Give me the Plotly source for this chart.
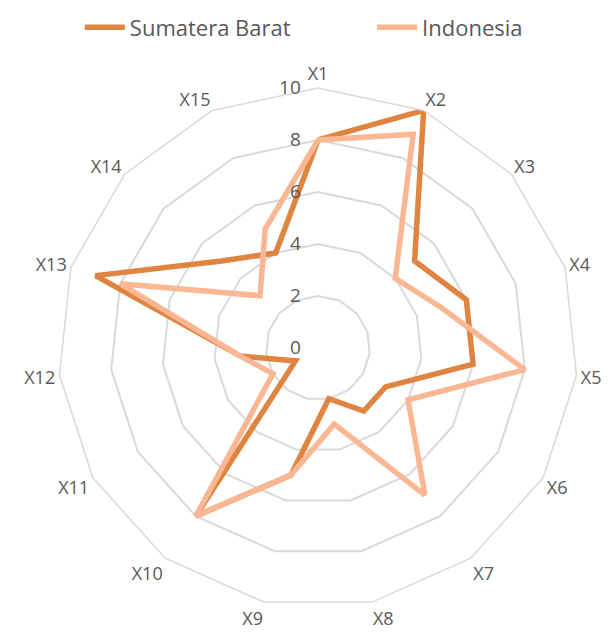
import plotly.graph_objects as go

categories = [f"X{i}" for i in range(1, 16)]
sumatera_barat = [8, 10, 5, 6, 6, 3, 3, 2, 5, 8, 1, 3, 9, 5, 4]
indonesia = [8, 9, 4, 5, 8, 4, 7, 3, 5, 8, 2, 3, 8, 3, 5]
radial_ticks = [0, 2, 4, 6, 8, 10]

dark = "#DF8541"
light = "#F9B793"
text_color = "#595959"
grid_color = "#D9D9D9"
font_family = "Open Sans, Noto Sans, sans-serif"

def closed(v):
    return v + v[:1]

fig = go.Figure()
fig.add_trace(go.Scatterpolar(
    r=closed(sumatera_barat), theta=closed(categories), name="Sumatera Barat",
    mode="lines", line=dict(color=dark, width=5.5), legend="legend"))
fig.add_trace(go.Scatterpolar(
    r=closed(indonesia), theta=closed(categories), name="Indonesia",
    mode="lines", line=dict(color=light, width=5.5), legend="legend2"))

legend_common = dict(orientation="h", y=0.99, yanchor="top", xanchor="left",
                     font=dict(size=22, color=text_color), itemwidth=40,
                     bgcolor="rgba(0,0,0,0)")

fig.update_layout(
    width=614, height=633,
    margin=dict(l=0, r=0, t=0, b=0),
    paper_bgcolor="white", plot_bgcolor="white",
    font=dict(family=font_family, size=18, color=text_color),
    showlegend=True,
    legend=dict(x=0.13, **legend_common),
    legend2=dict(x=0.606, **legend_common),
    polar=dict(
        domain=dict(x=[0.0946, 0.9412], y=[0.0398, 0.8610]),
        bgcolor="white",
        gridshape="linear",
        radialaxis=dict(range=[0, 10], tickvals=radial_ticks, ticktext=[str(t) for t in radial_ticks],
                        angle=90, side="counterclockwise", tickangle=90,
                        showline=False, ticks="outside", ticklen=10, tickcolor="rgba(0,0,0,0)",
                        gridcolor=grid_color, gridwidth=1.5,
                        tickfont=dict(size=19, color=text_color)),
        angularaxis=dict(direction="clockwise", rotation=90, showgrid=False,
                         showline=True, linecolor=grid_color, linewidth=1.5,
                         ticks="", tickfont=dict(size=18, color=text_color)),
    ),
)

fig.write_html("out.html")
